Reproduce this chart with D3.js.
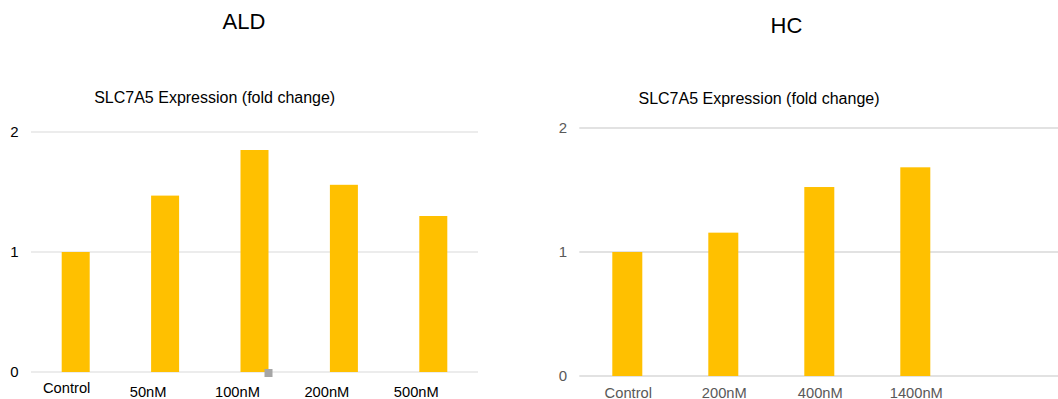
<!DOCTYPE html>
<html>
<head>
<meta charset="utf-8">
<script src="https://cdn.jsdelivr.net/npm/d3@7"></script>
<style>
  html, body { margin: 0; padding: 0; background: #fff; }
  svg { display: block; font-family: "Liberation Sans", Arial, sans-serif; }
</style>
</head>
<body>
<svg id="chart" width="1058" height="399"></svg>
<script>
// ---- data ----
const aldCategories = ["Control", "50nM", "100nM", "200nM", "500nM"];
const aldValues = [1.0, 1.47, 1.85, 1.56, 1.30];
const hcCategories = ["Control", "200nM", "400nM", "1400nM", ""];
const hcValues = [1.0, 1.156, 1.524, 1.683, null];
const yTicks = [0, 1, 2];
const panelTitles = ["ALD", "HC"];
const subTitle = "SLC7A5 Expression (fold change)";

const svg = d3.select("#chart");
const barColor = "#FFC000";

function panel(opts) {
  const g = svg.append("g");
  const x = d3.scaleBand().domain(opts.categories).range([opts.x0, opts.x1]).padding(0);
  const y = d3.scaleLinear().domain([0, 2]).range([opts.yBottom, opts.yTop]);

  // gridlines
  g.selectAll("line.grid").data(yTicks).join("line")
    .attr("class", "grid")
    .attr("x1", opts.x0).attr("x2", opts.gridEnd)
    .attr("y1", d => y(d)).attr("y2", d => y(d))
    .attr("stroke", "#d9d9d9")
    .attr("stroke-width", opts.gridWidth);

  // y tick labels
  g.selectAll("text.ytick").data(yTicks).join("text")
    .attr("class", "ytick")
    .attr("x", opts.yLabelX)
    .attr("y", d => y(d))
    .attr("dy", "0.35em")
    .attr("text-anchor", "middle")
    .attr("font-size", 15)
    .attr("fill", opts.textColor)
    .text(d => d);

  // bars
  const data = opts.categories.map((c, i) => ({ c, v: opts.values[i] })).filter(d => d.v != null);
  g.selectAll("rect.bar").data(data).join("rect")
    .attr("class", "bar")
    .attr("x", d => x(d.c) + x.bandwidth() / 2 - opts.barWidth / 2)
    .attr("width", opts.barWidth)
    .attr("y", d => y(d.v))
    .attr("height", d => y(0) - y(d.v))
    .attr("fill", barColor);

  // x labels
  g.selectAll("text.xlab").data(opts.categories).join("text")
    .attr("class", "xlab")
    .attr("x", (d, i) => x(d) + x.bandwidth() / 2 + opts.labelDx(i))
    .attr("y", (d, i) => opts.labelY(i))
    .attr("text-anchor", "middle")
    .attr("font-size", 14.7)
    .attr("fill", opts.textColor)
    .text(d => d);

  // panel title
  g.append("text")
    .attr("x", opts.titleX).attr("y", opts.titleY)
    .attr("text-anchor", "middle")
    .attr("font-size", 22)
    .attr("fill", "#000")
    .text(opts.title);

  // chart subtitle
  g.append("text")
    .attr("x", opts.subX).attr("y", opts.subY)
    .attr("text-anchor", "middle")
    .attr("font-size", 16)
    .attr("fill", "#000")
    .text(subTitle);

  return { g, x, y };
}

const left = panel({
  categories: aldCategories, values: aldValues,
  x0: 31, x1: 478, gridEnd: 478, yBottom: 372, yTop: 132,
  barWidth: 28, gridWidth: 1, yLabelX: 14.5, textColor: "#000",
  labelDx: i => (i === 0 ? -9 : -17),
  labelY: i => (i === 0 ? 393 : 396.5),
  title: panelTitles[0], titleX: 244, titleY: 29,
  subX: 214.7, subY: 103
});

// small grey selection handle visible in the reference
left.g.append("rect")
  .attr("x", left.x("100nM") + left.x.bandwidth() / 2 + 10)
  .attr("y", left.y(0) - 3)
  .attr("width", 8).attr("height", 8)
  .attr("fill", "#a6a6a6");

panel({
  categories: hcCategories, values: hcValues,
  x0: 579.3, x1: 1059.3, gridEnd: 1058, yBottom: 376, yTop: 128,
  barWidth: 30, gridWidth: 1.5, yLabelX: 563, textColor: "#595959",
  labelDx: i => 1,
  labelY: i => 397.5,
  title: panelTitles[1], titleX: 786.5, titleY: 33,
  subX: 759, subY: 104
});
</script>
</body>
</html>
